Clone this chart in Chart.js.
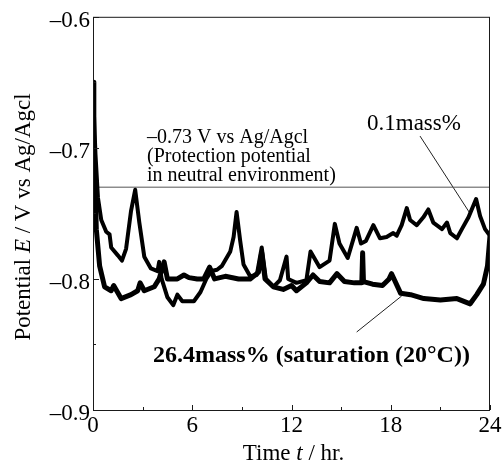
<!DOCTYPE html>
<html>
<head>
<meta charset="utf-8">
<script src="https://cdn.jsdelivr.net/npm/chart.js@4.4.1/dist/chart.umd.min.js"></script>
<style>
  html, body { margin: 0; padding: 0; background: #fff; }
  #contenedor { width: 504px; height: 466px; }
</style>
</head>
<body>
<div id="contenedor"><canvas id="chart-potencial"></canvas></div>
<script>
// 0.1mass% (tiempo en h, potencial en V)
const t01 = [0, 0.05, 0.15, 0.3, 0.5, 0.8, 1.0, 1.1, 1.5, 1.75, 2.0, 2.3, 2.55, 2.8, 3.1, 3.5, 3.9, 4.0, 4.15, 4.5,
  4.85, 5.1, 5.4, 5.8, 6.1, 6.5, 6.85, 7.15, 7.5, 7.8, 8.3, 8.5, 8.68, 8.9, 9.1, 9.5, 9.9, 10.2, 10.45, 10.9,
  11.3, 11.7, 11.8, 12.3, 12.9, 13.15, 13.7, 14.3, 14.62, 14.9, 15.4, 15.94, 16.2, 16.5, 16.95, 17.35, 17.75, 18.15, 18.36, 18.66,
  18.97, 19.17, 19.57, 19.97, 20.27, 20.57, 21.1, 21.4, 21.6, 22.0, 22.3, 22.7, 23.16, 23.4, 23.7, 24.0];
const v01 = [-0.650, -0.672, -0.705, -0.738, -0.755, -0.764, -0.766, -0.776, -0.782, -0.786, -0.777, -0.748, -0.732, -0.757, -0.783, -0.792, -0.794, -0.787, -0.800, -0.814,
  -0.820, -0.812, -0.817, -0.817, -0.817, -0.810, -0.800, -0.794, -0.793, -0.790, -0.779, -0.768, -0.749, -0.771, -0.789, -0.798, -0.797, -0.776, -0.800, -0.806,
  -0.801, -0.783, -0.800, -0.803, -0.801, -0.779, -0.791, -0.786, -0.758, -0.773, -0.784, -0.761, -0.773, -0.771, -0.759, -0.769, -0.768, -0.765, -0.767, -0.759,
  -0.746, -0.755, -0.759, -0.753, -0.747, -0.757, -0.762, -0.757, -0.765, -0.769, -0.762, -0.753, -0.739, -0.752, -0.762, -0.767];

// 26.4mass% (saturacion)
const t26 = [0, 0.05, 0.2, 0.4, 0.7, 1.1, 1.25, 1.7, 2.3, 2.7, 2.85, 3.1, 3.7, 4.0, 4.3, 4.5, 5.1, 5.5, 5.8, 6.3,
  6.7, 7.05, 7.35, 8.0, 8.8, 9.5, 10.0, 10.2, 10.4, 10.9, 11.5, 12.0, 12.3, 12.9, 13.3, 13.7, 14.3, 14.75, 15.2, 15.8,
  16.25, 16.3, 16.35, 16.9, 17.5, 17.9, 18.05, 18.6, 19.2, 20.0, 21.0, 22.0, 22.8, 23.2, 23.6, 23.85, 24.0];
const v26 = [-0.650, -0.690, -0.762, -0.790, -0.806, -0.809, -0.805, -0.815, -0.812, -0.809, -0.803, -0.809, -0.806, -0.800, -0.787, -0.800, -0.800, -0.797, -0.799, -0.800,
  -0.800, -0.791, -0.800, -0.798, -0.800, -0.800, -0.795, -0.780, -0.800, -0.806, -0.808, -0.805, -0.809, -0.803, -0.797, -0.802, -0.803, -0.796, -0.802, -0.803,
  -0.803, -0.780, -0.802, -0.804, -0.805, -0.800, -0.796, -0.811, -0.812, -0.815, -0.816, -0.815, -0.819, -0.812, -0.804, -0.790, -0.767];

const proteccion = -0.73;

const xTicks = [0, 6, 12, 18, 24];
const xTickLabels = ['0', '6', '12', '18', '24'];
const xMinor = [3, 9, 15, 21];
const yTicks = [-0.9, -0.8, -0.7, -0.6];
const yTickLabels = ['\u20130.9', '\u20130.8', '\u20130.7', '\u20130.6'];
const yMinor = [-0.85, -0.75, -0.65];

// lineas de las etiquetas
const flecha01T = [19.77, 22.79];
const flecha01V = [-0.691, -0.750];
const flecha26T = [18.66, 15.94];
const flecha26V = [-0.813, -0.8405];

const serif = "'Liberation Serif', 'Times New Roman', serif";

function puntos(ts, vs) {
  return ts.map((t, i) => ({ x: t, y: vs[i] }));
}

// escribe un texto con trozos en cursiva
function trozos(ctx, partes, x, y, size, align) {
  let total = 0;
  partes.forEach(p => {
    ctx.font = p[1] + ' ' + size + 'px ' + serif;
    total += ctx.measureText(p[0]).width;
  });
  let px = align === 'center' ? x - total / 2 : x;
  ctx.textAlign = 'left';
  partes.forEach(p => {
    ctx.font = p[1] + ' ' + size + 'px ' + serif;
    ctx.fillText(p[0], px, y);
    px += ctx.measureText(p[0]).width;
  });
}

const extras = {
  id: 'extras',
  afterDraw(chart) {
    const ctx = chart.ctx;
    const a = chart.chartArea;
    const xs = chart.scales.x;
    const ys = chart.scales.y;
    ctx.save();
    ctx.strokeStyle = '#1a1a1a';
    ctx.lineWidth = 1;
    ctx.strokeRect(a.left + 0.5, a.top + 0.5, a.right - a.left - 1, a.bottom - a.top);

    // marcas hacia dentro
    ctx.beginPath();
    xTicks.forEach(v => { const p = Math.round(xs.getPixelForValue(v)) + 0.5; ctx.moveTo(p, a.bottom); ctx.lineTo(p, a.bottom - 5); });
    xMinor.forEach(v => { const p = Math.round(xs.getPixelForValue(v)) + 0.5; ctx.moveTo(p, a.bottom); ctx.lineTo(p, a.bottom - 3); });
    yTicks.forEach(v => { const p = Math.round(ys.getPixelForValue(v)) + 0.5; ctx.moveTo(a.left, p); ctx.lineTo(a.left + 6, p); });
    yMinor.forEach(v => { const p = Math.round(ys.getPixelForValue(v)) + 0.5; ctx.moveTo(a.left, p); ctx.lineTo(a.left + 3, p); });
    ctx.stroke();

    ctx.fillStyle = '#000';
    ctx.textBaseline = 'alphabetic';

    // titulos de los ejes
    trozos(ctx, [['Time ', 'normal'], ['t', 'italic'], [' / hr.', 'normal']], (a.left + a.right) / 2 + 2, 460, 23, 'center');
    ctx.save();
    ctx.translate(30, 217);
    ctx.rotate(-Math.PI / 2);
    trozos(ctx, [['Potential ', 'normal'], ['E', 'italic'], [' / V vs Ag/Agcl', 'normal']], 0, 0, 23, 'center');
    ctx.restore();

    // notas
    ctx.font = '20px ' + serif;
    ctx.textAlign = 'left';
    ctx.fillText('\u20130.73 V vs Ag/Agcl', 147, 143);
    ctx.fillText('(Protection potential', 147, 162);
    ctx.fillText('in neutral environment)', 147, 181);

    ctx.font = '23px ' + serif;
    ctx.fillText('0.1mass%', 367, 130);

    ctx.font = 'bold 24px ' + serif;
    ctx.fillText('26.4mass% (saturation (20\u00b0C))', 153, 362);
    ctx.restore();
  }
};

const ctx = document.getElementById('chart-potencial').getContext('2d');

new Chart(ctx, {
  type: 'line',
  data: {
    datasets: [
      { label: '0.1mass%', data: puntos(t01, v01), borderColor: '#000', borderWidth: 4, borderJoinStyle: 'round', pointRadius: 0, tension: 0 },
      { label: '26.4mass%', data: puntos(t26, v26), borderColor: '#000', borderWidth: 5, borderJoinStyle: 'round', pointRadius: 0, tension: 0 },
      { label: 'proteccion', data: puntos([0, 24], [proteccion, proteccion]), borderColor: '#555', borderWidth: 1, pointRadius: 0 },
      { label: 'flecha01', data: puntos(flecha01T, flecha01V), borderColor: '#222', borderWidth: 1, pointRadius: 0 },
      { label: 'flecha26', data: puntos(flecha26T, flecha26V), borderColor: '#222', borderWidth: 1, pointRadius: 0 }
    ]
  },
  options: {
    responsive: true,
    maintainAspectRatio: false,
    animation: false,
    layout: { padding: { top: 15, right: 14, bottom: 0, left: 0 } },
    plugins: {
      legend: { display: false },
      tooltip: { enabled: false }
    },
    scales: {
      x: {
        type: 'linear',
        min: 0,
        max: 24,
        afterBuildTicks: s => { s.ticks = xTicks.map(v => ({ value: v })); },
        afterFit: s => { s.height = 56; },
        grid: { display: false, drawTicks: false },
        border: { display: false },
        ticks: {
          color: '#000',
          padding: 2,
          maxRotation: 0,
          font: { family: serif, size: 23 },
          callback: v => xTickLabels[xTicks.indexOf(v)]
        }
      },
      y: {
        type: 'linear',
        min: -0.9,
        max: -0.6,
        afterBuildTicks: s => { s.ticks = yTicks.map(v => ({ value: v })); },
        afterFit: s => { s.width = 93; },
        grid: { display: false, drawTicks: false },
        border: { display: false },
        ticks: {
          color: '#000',
          padding: 3,
          labelOffset: 4,
          font: { family: serif, size: 23 },
          callback: v => yTickLabels[yTicks.indexOf(v)]
        }
      }
    }
  },
  plugins: [extras]
});
</script>
</body>
</html>
